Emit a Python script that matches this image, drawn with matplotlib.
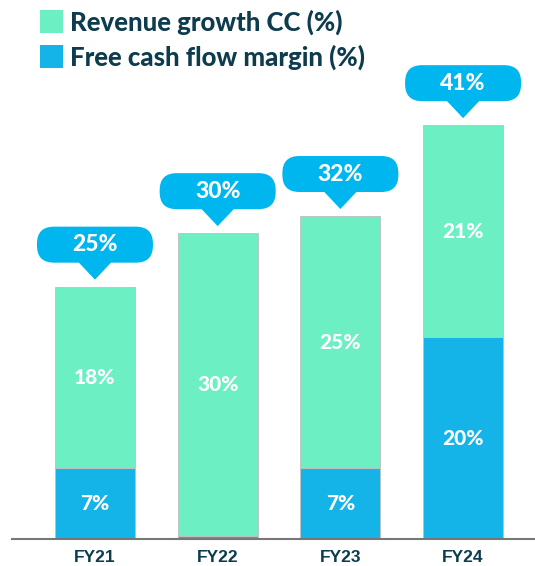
import matplotlib
matplotlib.use("Agg")
import matplotlib.pyplot as plt
from matplotlib.patches import FancyBboxPatch, Polygon, Rectangle
from matplotlib.transforms import IdentityTransform

categories = ["FY21", "FY22", "FY23", "FY24"]
fcf_margin = [7, 0.3, 7, 20]
revenue_growth = [18, 30, 25, 21]
fcf_labels = ["7%", "", "7%", "20%"]
rev_labels = ["18%", "30%", "25%", "21%"]
totals = ["25%", "30%", "32%", "41%"]
legend_labels = ["Revenue growth CC (%)", "Free cash flow margin (%)"]

MINT = "#6DEFC4"
BLUE = "#15B4E8"
BUBBLE = "#00B6EF"
DARK = "#0E3C4F"
FONT = "Lato"
W8 = 900

W, H = 535, 566
fig = plt.figure(figsize=(W / 100, H / 100), dpi=100)
ax = fig.add_axes([12 / W, (H - 539) / H, 523 / W, 539 / H])

x = list(range(len(categories)))
bw = 0.65
ax.bar(x, fcf_margin, width=bw, color=BLUE, edgecolor="#bfbfbf", linewidth=0.6, zorder=2)
ax.bar(x, revenue_growth, bottom=fcf_margin, width=bw, color=MINT, edgecolor="#bfbfbf",
       linewidth=0.6, zorder=2)

ax.set_xlim(-0.676, 3.586)
ax.set_ylim(0, 53.4)
for s in ["top", "right", "left"]:
    ax.spines[s].set_visible(False)
ax.spines["bottom"].set_color("#777777")
ax.spines["bottom"].set_linewidth(1.5)
ax.spines["bottom"].set_zorder(3)
ax.set_yticks([])
ax.set_xticks(x)
ax.set_xticklabels(categories, fontsize=12.5, fontweight="bold", color=DARK,
                   family="Liberation Sans")
ax.tick_params(axis="x", length=0, pad=8)

for i in x:
    if fcf_labels[i]:
        ax.text(i, fcf_margin[i] / 2, fcf_labels[i], ha="center", va="center", color="white",
                fontsize=15, fontweight=W8, family=FONT, zorder=4)
    ax.text(i, fcf_margin[i] + revenue_growth[i] / 2, rev_labels[i], ha="center", va="center",
            color="white", fontsize=15, fontweight=W8, family=FONT, zorder=4)

# callout bubbles in display (pixel) coordinates
fig.canvas.draw()
ident = IdentityTransform()
for i in x:
    top = fcf_margin[i] + revenue_growth[i]
    cx, cy = ax.transData.transform((i, top))
    tip_y = cy + 7
    base_y = tip_y + 17
    bw_px, bh_px = 116, 36
    box = FancyBboxPatch((cx - bw_px / 2, base_y), bw_px, bh_px,
                         boxstyle="round,pad=0,rounding_size=17",
                         facecolor=BUBBLE, edgecolor="none", transform=ident, zorder=5)
    fig.patches.append(box)
    tri = Polygon([(cx - 17, base_y + 1), (cx + 17, base_y + 1), (cx, tip_y)], closed=True,
                  facecolor=BUBBLE, edgecolor="none", transform=ident, zorder=5)
    fig.patches.append(tri)
    fx, fy = fig.transFigure.inverted().transform((cx, base_y + bh_px / 2))
    fig.text(fx, fy, totals[i], ha="center", va="center", color="white", fontsize=16.5,
             fontweight=W8, family=FONT, zorder=6)

# legend
colors = [MINT, BLUE]
ys = [10, 45]
for lab, c, y in zip(legend_labels, colors, ys):
    fig.patches.append(Rectangle((40 / W, 1 - (y + 23) / H), 23 / W, 23 / H, facecolor=c,
                                 edgecolor="none", transform=fig.transFigure))
    fig.text(70 / W, 1 - (y + 12) / H, lab, ha="left", va="center", color=DARK,
             fontsize=18.5, fontweight=W8, family=FONT)

fig.savefig("out.png", dpi=100)
